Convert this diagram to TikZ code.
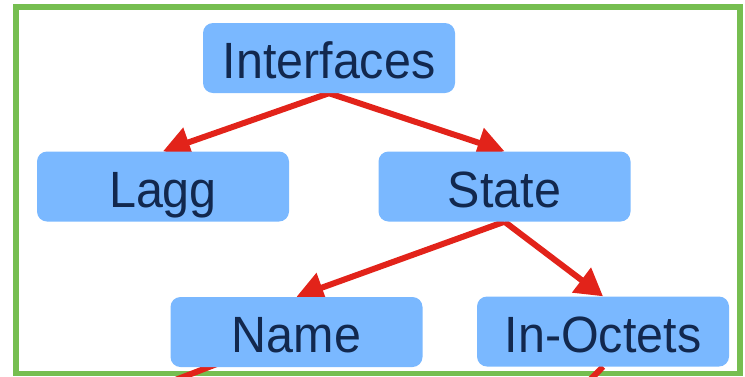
\documentclass[tikz,border=0pt]{standalone}
\usepackage{fontspec}
\setmainfont{Liberation Sans}[FakeStretch=0.95]
\usetikzlibrary{arrows.meta}

\definecolor{boxblue}{RGB}{122,184,255}
\definecolor{linkred}{RGB}{226,35,26}
\definecolor{framegreen}{RGB}{118,190,80}
\definecolor{labelnavy}{RGB}{18,40,78}

\pgfdeclarelayer{frame}
\pgfdeclarelayer{links}
\pgfsetlayers{frame,links,main}

\begin{document}
\begin{tikzpicture}[x=1pt,y=-1pt,
  leaf/.style={fill=boxblue, rounded corners=10pt, minimum width=252pt,
    minimum height=70pt, inner sep=0pt, text=labelnavy,
    font=\fontsize{51}{60}\selectfont, text height=41.5pt, text depth=0pt},
  link/.style={draw=linkred, line width=6pt,
    -{Triangle[length=27pt,width=30pt]}},
  stub/.style={draw=linkred, line width=6pt}]
\useasboundingbox (0,0) rectangle (745,376);

% tree nodes
\node[leaf] (ifs)   at (329,58)    {Interfaces};
\node[leaf] (lagg)  at (163,186.5) {Lagg};
\node[leaf] (state) at (504.5,186.5) {State};
\node[leaf] (name)  at (296.5,332) {Name};
\node[leaf] (inoct) at (603,331.5) {In-Octets};

% loose ends of links running on below the frame
\coordinate (nameout)  at (165,384);
\coordinate (inoctout) at (586,384);

% outer frame
\begin{pgfonlayer}{frame}
  \draw[framegreen, line width=5.5pt] (16,7) rectangle (740,373.5);
\end{pgfonlayer}

% links between the nodes
\begin{pgfonlayer}{links}
  \draw[link] (ifs.south) -- (lagg.north);
  \draw[link] (ifs.south) -- (state.north);
  \draw[link] (state.south) -- (name.north);
  \draw[link] (state.south) -- (inoct.north);
  \draw[stub] ([shift={(48.5,-4)}]name.south west) -- (nameout);
  \draw[stub] (inoct.south) -- (inoctout);
\end{pgfonlayer}
\end{tikzpicture}
\end{document}
